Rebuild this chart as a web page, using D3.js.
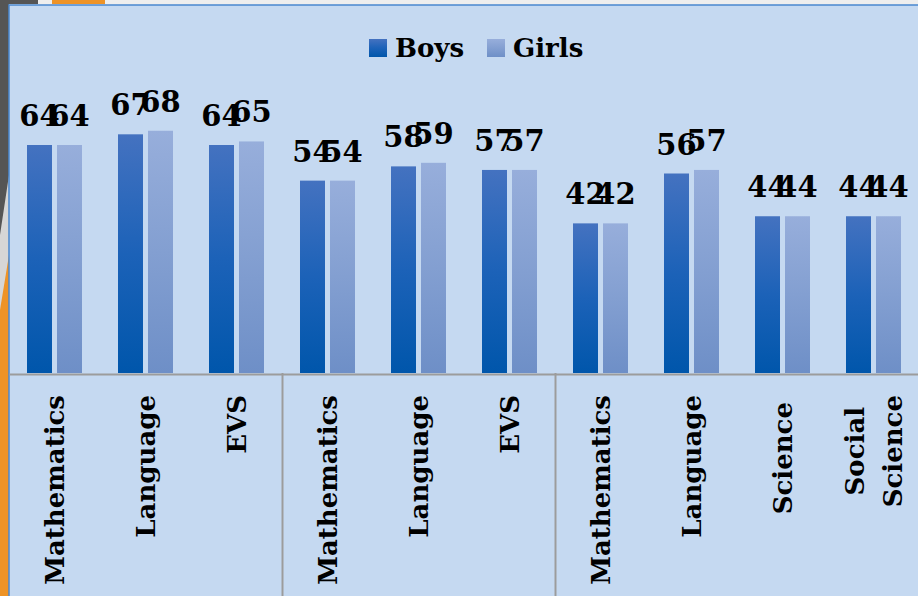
<!DOCTYPE html>
<html>
<head>
<meta charset="utf-8">
<script src="https://cdn.jsdelivr.net/npm/d3@7/dist/d3.min.js"></script>
<style>
  body { margin: 0; background: #eeeeee; }
  svg { display: block; }
</style>
</head>
<body>
<svg id="chart" width="918" height="596"></svg>
<script>
// chart data
const categories = ['Mathematics', 'Language', 'EVS', 'Mathematics', 'Language', 'EVS',
  'Mathematics', 'Language', 'Science', 'Social\nScience'];
const seriesNames = ['Boys', 'Girls'];
const boys = [64, 67, 64, 54, 58, 57, 42, 56, 44, 44];
const girls = [64, 68, 65, 54, 59, 57, 42, 57, 44, 44];
const groupBreaks = [3, 6]; // separator lines after these category indexes

const svg = d3.select('#chart');
const W = 918, H = 596;
const plot = { left: 9, right: 919, top: 5, base: 373 };
const font = '"DejaVu Serif", serif';

// gradients
const defs = svg.append('defs');
const grads = [
  { id: 'gBoys', stops: ['#4472c0', '#1c62b8', '#0056ab'] },
  { id: 'gGirls', stops: ['#97aedb', '#839fd1', '#6e8fc7'] }
];
grads.forEach(g => {
  const lg = defs.append('linearGradient').attr('id', g.id)
    .attr('x1', 0).attr('y1', 0).attr('x2', 0).attr('y2', 1);
  g.stops.forEach((c, i) => lg.append('stop')
    .attr('offset', (i / (g.stops.length - 1) * 100) + '%').attr('stop-color', c));
});

// slide decoration round the chart
svg.append('rect').attr('x', 0).attr('y', 0).attr('width', 9).attr('height', H).attr('fill', '#d6d6d6');
svg.append('path').attr('d', 'M0,0 H38 V4 H9 V175 L0,235 Z').attr('fill', '#555555');
svg.append('path').attr('d', 'M9,255 L9,596 L0,596 L0,310 Z').attr('fill', '#ee9326');
svg.append('rect').attr('x', 52).attr('y', 0).attr('width', 53).attr('height', 4).attr('fill', '#ee9326');

// chart area
svg.append('rect')
  .attr('x', plot.left).attr('y', plot.top)
  .attr('width', W - plot.left + 2).attr('height', H - plot.top + 2)
  .attr('fill', '#c5d9f1').attr('stroke', '#4a88cf').attr('stroke-width', 1.5);

// scales
const x = d3.scaleBand().domain(d3.range(categories.length)).range([plot.left, plot.right]);
const xInner = d3.scaleBand().domain(seriesNames).range([18, 73]).paddingInner(1 / 6);
const y = d3.scaleLinear().domain([0, 80]).range([plot.base, plot.base - 285]);
const color = d3.scaleOrdinal().domain(seriesNames).range(['url(#gBoys)', 'url(#gGirls)']);

const rows = categories.map((c, i) => ({ i, values: [
  { s: 'Boys', v: boys[i] }, { s: 'Girls', v: girls[i] }] }));

// bars
const groups = svg.append('g').selectAll('g').data(rows).join('g')
  .attr('transform', d => `translate(${x(d.i)},0)`);

groups.selectAll('rect').data(d => d.values).join('rect')
  .attr('x', d => xInner(d.s))
  .attr('y', d => y(d.v))
  .attr('width', xInner.bandwidth())
  .attr('height', d => y(0) - y(d.v))
  .attr('fill', d => color(d.s));

// value labels
groups.selectAll('text').data(d => d.values).join('text')
  .attr('x', d => xInner(d.s) + xInner.bandwidth() / 2)
  .attr('y', d => y(d.v) - 19)
  .attr('text-anchor', 'middle')
  .attr('font-family', font).attr('font-weight', 'bold').attr('font-size', 29)
  .attr('fill', '#000')
  .text(d => d.v);

// category axis
const xAxis = d3.axisBottom(x).tickSize(0).tickFormat(i => categories[i]);
const gx = svg.append('g').attr('transform', `translate(0,${plot.base})`).call(xAxis);
gx.select('.domain').attr('stroke', '#9c9c9c').attr('stroke-width', 2).attr('transform', 'translate(0,1)');
gx.selectAll('.tick text').each(function(i) {
  const t = d3.select(this);
  const lines = categories[i].split('\n');
  t.text(null)
    .attr('transform', 'rotate(-90)')
    .attr('font-family', font).attr('font-weight', 'bold').attr('font-size', 26)
    .attr('fill', '#000').attr('y', 0).attr('dy', null);
  const spans = lines.map((l, k) => t.append('tspan')
    .attr('y', (k - (lines.length - 1) / 2) * 38)
    .attr('dy', '0.35em')
    .text(l));
  if (lines.length > 1) {
    const maxLen = d3.max(spans, s => s.node().getComputedTextLength());
    t.attr('text-anchor', 'middle');
    spans.forEach(s => s.attr('x', -(22 + maxLen / 2)));
  } else {
    t.attr('text-anchor', 'end');
    spans.forEach(s => s.attr('x', lines[0] === 'Science' ? -29 : -22));
  }
});

// group separators
svg.append('g').selectAll('line').data(groupBreaks).join('line')
  .attr('x1', d => x(d) + 0.5).attr('x2', d => x(d) + 0.5)
  .attr('y1', plot.base).attr('y2', H)
  .attr('stroke', '#9c9c9c').attr('stroke-width', 2);

// legend
const legendX = [369, 487];
const legend = svg.append('g').selectAll('g').data(seriesNames).join('g')
  .attr('transform', (d, i) => `translate(${legendX[i]},39)`);
legend.append('rect').attr('width', 18).attr('height', 18).attr('fill', d => color(d));
legend.append('text')
  .attr('x', 26).attr('y', 18)
  .attr('font-family', font).attr('font-weight', 'bold').attr('font-size', 26)
  .text(d => d);
</script>
</body>
</html>
